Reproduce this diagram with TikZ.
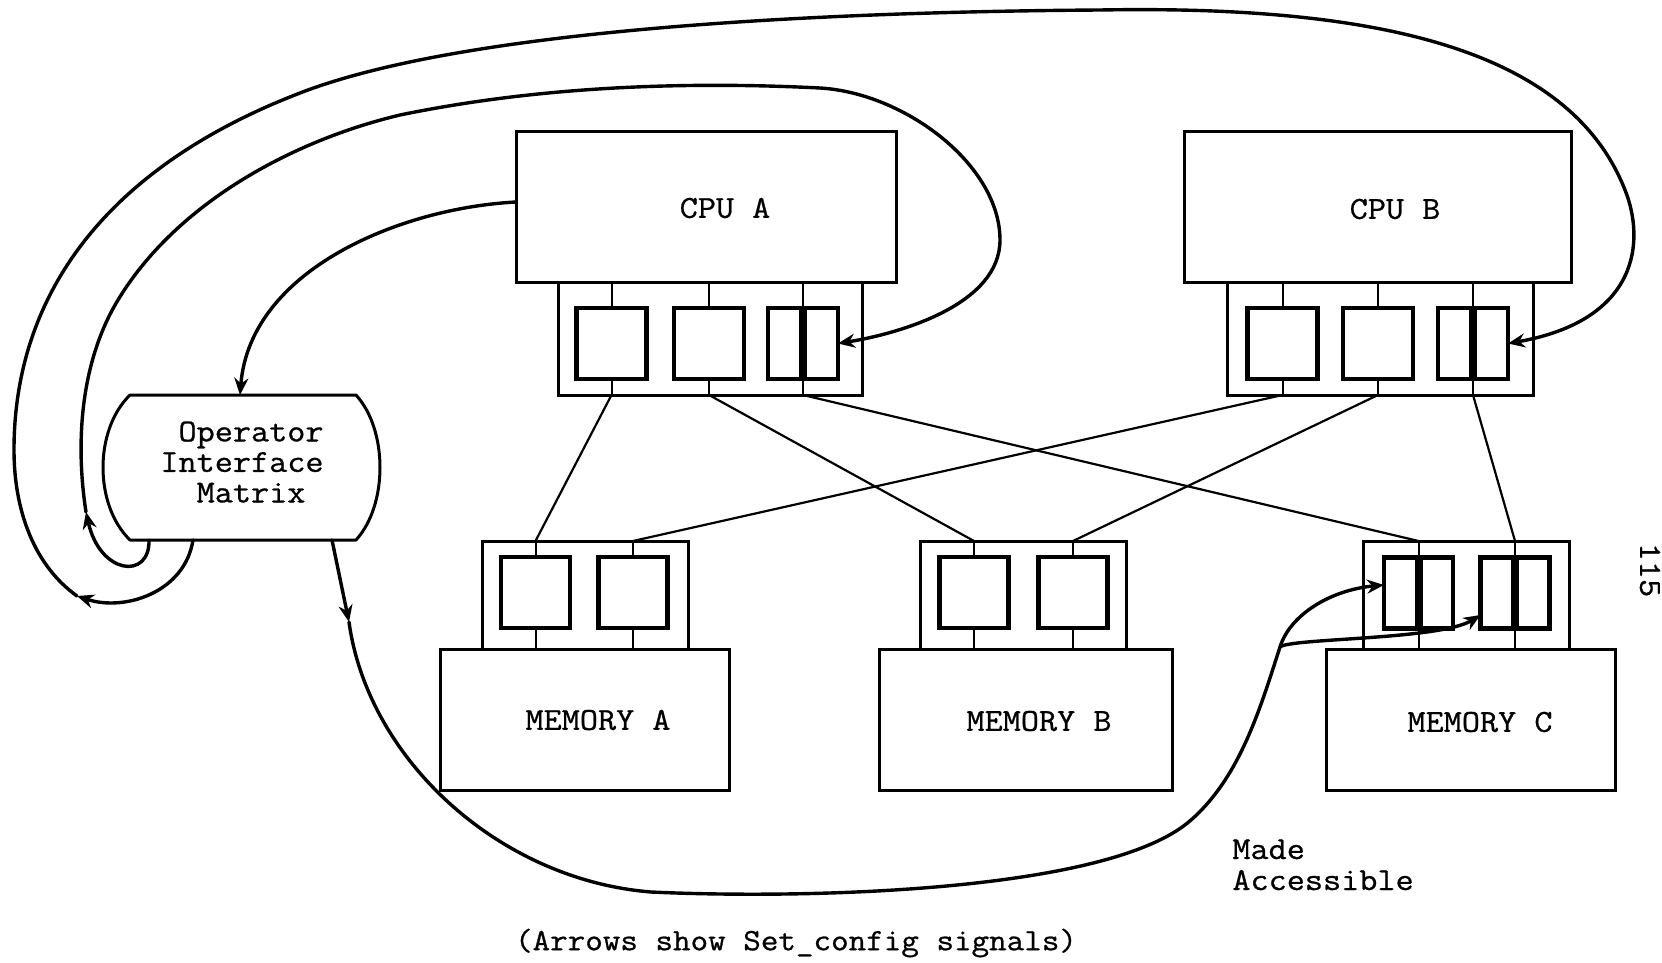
\documentclass[tikz,border=0pt]{standalone}
\usepackage{fontspec}
\setmainfont{Latin Modern Mono}[FakeStretch=1.1, FakeBold=0.8]
\usetikzlibrary{arrows.meta,calc}
\begin{document}
\begin{tikzpicture}[x=0.5pt,y=-0.5pt,
  unitbox/.style={draw, line width=1.5pt, inner sep=0pt, outer sep=0pt},
  portbox/.style={draw, line width=2.2pt, inner sep=0pt, outer sep=0pt,
                  minimum width=35pt, minimum height=35.5pt},
  stub/.style={line width=1pt},
  bar/.style={line width=4pt},
  bus/.style={line width=1.1pt},
  outline/.style={line width=1.5pt, line join=round},
  sig/.style={line width=1.7pt, line cap=round, -{Stealth[length=8.5pt,width=7pt]}},
  wire/.style={line width=1.7pt, line cap=round},
  lbl/.style={font=\fontsize{16}{15.25}\selectfont, inner sep=0pt},
]
\useasboundingbox (0,0) rectangle (1662,963);

% ---------- processors ----------
\node[unitbox, minimum width=190pt, minimum height=75pt] (cpuA) at (706,207) {};
\node[lbl] (cpuAtxt) at (725,208) {CPU A};
\node[unitbox, minimum width=152pt, minimum height=56.5pt] (fA) at (710,338.5) {};
\node[portbox] (pA1) at (611.5,343.5) {};
\node[portbox] (pA2) at (709,343.5) {};
\node[portbox] (pA3) at (803,343.5) {};

\node[unitbox, minimum width=193.5pt, minimum height=75pt] (cpuB) at (1377.5,207) {};
\node[lbl] (cpuBtxt) at (1395,209) {CPU B};
\node[unitbox, minimum width=153pt, minimum height=56.5pt] (fB) at (1380,338.5) {};
\node[portbox] (pB1) at (1282.5,343.5) {};
\node[portbox] (pB2) at (1378,343.5) {};
\node[portbox] (pB3) at (1473,343.5) {};

% ---------- memories ----------
\node[unitbox, minimum width=103pt, minimum height=54pt] (fMA) at (585,595) {};
\node[unitbox, minimum width=144.5pt, minimum height=70.5pt] (memA) at (584.5,719.5) {};
\node[lbl] (memAtxt) at (598,720) {MEMORY A};
\node[portbox, minimum width=34.5pt] (mA1) at (535.5,592.5) {};
\node[portbox, minimum width=34.5pt] (mA2) at (633,592.5) {};

\node[unitbox, minimum width=103pt, minimum height=54pt] (fMB) at (1023,595) {};
\node[unitbox, minimum width=146.5pt, minimum height=70.5pt] (memB) at (1025.5,719.5) {};
\node[lbl] (memBtxt) at (1039,721) {MEMORY B};
\node[portbox, minimum width=34.5pt] (mB1) at (974,592.5) {};
\node[portbox, minimum width=34.5pt] (mB2) at (1073,592.5) {};

\node[unitbox, minimum width=103pt, minimum height=54pt] (fMC) at (1466,595) {};
\node[unitbox, minimum width=144.5pt, minimum height=70.5pt] (memC) at (1470.5,719.5) {};
\node[lbl] (memCtxt) at (1480,722) {MEMORY C};
\node[portbox, minimum width=34.5pt] (mC1) at (1418.5,593) {};
\node[portbox, minimum width=34.5pt] (mC2) at (1515,593) {};

% stubs joining each port to its frame
\foreach \p/\f in {pA1/fA,pA2/fA,pA3/fA,pB1/fB,pB2/fB,pB3/fB,
                   mA1/fMA,mA2/fMA,mB1/fMB,mB2/fMB,mC1/fMC,mC2/fMC}{
  \draw[stub] (\p.north) -- (\p.north |- \f.north);
  \draw[stub] (\p.south) -- (\p.south |- \f.south);
}
% closed switches
\foreach \p in {pA3,pB3,mC1,mC2}{
  \draw[bar] (\p.north) -- (\p.south);
}

% ---------- processor-memory buses ----------
\draw[bus] (pA1.south |- fA.south) -- (mA1.north |- fMA.north);
\draw[bus] (pA2.south |- fA.south) -- (mB1.north |- fMB.north);
\draw[bus] (pA3.south |- fA.south) -- (mC1.north |- fMC.north);
\draw[bus] (pB1.south |- fB.south) -- (mA2.north |- fMA.north);
\draw[bus] (pB2.south |- fB.south) -- (mB2.north |- fMB.north);
\draw[bus] (pB3.south |- fB.south) -- (mC2.north |- fMC.north);

% ---------- operator interface matrix ----------
\node[inner sep=0pt, outer sep=0pt, minimum width=113pt, minimum height=72.5pt] (oim) at (243,467.5) {};
\draw[outline] (oim.north west) -- (oim.north east)
  .. controls ($(oim.north east)+(32,35)$) and ($(oim.south east)+(32,-35)$) .. (oim.south east)
  -- (oim.south west)
  .. controls ($(oim.south west)+(-36,-35)$) and ($(oim.north west)+(-36,35)$) .. cycle;
\node[lbl, align=left, anchor=west] (oimtxt) at (160,462)
  {\phantom{I}Operator\\Interface\\\phantom{II}Matrix};

% ---------- set_config signal paths ----------
\coordinate (aOut) at ($(cpuA.west)+(0,-5)$);
\coordinate (oimTop) at ($(oim.north)+(-3,0)$);
\coordinate (oimL) at ($(oim.south west)+(19,0)$);
\coordinate (oimM) at ($(oim.south west)+(63,0)$);
\coordinate (oimR) at ($(oim.south west)+(202,0)$);
\coordinate (inMid) at (86,512);
\coordinate (outMid) at (77,596);
\coordinate (botMid) at (349,622);
\coordinate (split) at (1280,647);
\coordinate (c1In) at ($(mC1.west)+(0,-8)$);
\coordinate (c2In) at ($(mC2.west)+(0,22)$);

% CPU A to the matrix
\draw[sig] (aOut) .. controls (400,208) and (250,270) .. (oimTop);

% matrix to CPU A
\draw[sig] (oimL) .. controls (150,580) and (100,575) .. (inMid);
\draw[sig] (inMid) .. controls (75,441) and (81,361) .. (118,300)
  .. controls (176,204) and (291,141) .. (400,115)
  .. controls (536,87) and (680,81) .. (820,88)
  .. controls (905,93) and (1000,165) .. (1000,240)
  .. controls (1000,304) and (902,333) .. (pA3.east);

% matrix to CPU B
\draw[sig] (oimM) .. controls (185,592) and (125,612) .. (outMid);
\draw[sig] (outMid) .. controls (35,566) and (14,512) .. (14,450)
  .. controls (14,300) and (100,170) .. (300,93)
  .. controls (460,31) and (800,12) .. (1100,10)
  .. controls (1380,5) and (1570,50) .. (1625,190)
  .. controls (1645,240) and (1640,320) .. (pB3.east);

% matrix to memory C
\draw[sig] (oimR) -- (botMid);
\draw[wire] (botMid) .. controls (368,760) and (500,880) .. (651,892)
  .. controls (801,899) and (1109,893) .. (1191,820)
  .. controls (1240,777) and (1260,709) .. (split);
\draw[sig] (split) .. controls (1290,615) and (1330,590) .. (c1In);
\draw[sig] (split) .. controls (1290,638) and (1440,640) .. (c2In);

% ---------- texts ----------
\node[lbl, anchor=base west] (made) at (1232,859) {Made};
\node[lbl, anchor=base west] (access) at (1232,890) {Accessible};
\node[lbl, font=\fontsize{15.5}{15}\selectfont] (caption) at (796,943)
  {(Arrows show Set\_config signals)};
\node[lbl, rotate=-90] (pageno) at (1650,570) {115};
\end{tikzpicture}
\end{document}
